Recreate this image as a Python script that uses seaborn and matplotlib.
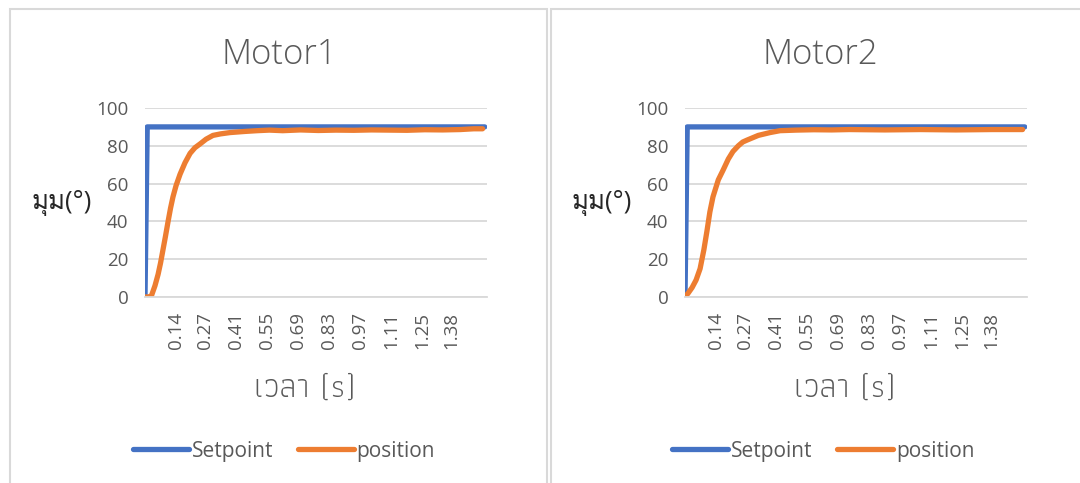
import matplotlib
matplotlib.use("Agg")
import matplotlib.pyplot as plt
from matplotlib import font_manager
from matplotlib.font_manager import FontProperties
from matplotlib.ft2font import FT2Font
from matplotlib.patches import Rectangle
from matplotlib.lines import Line2D
import pandas as pd
import seaborn as sns

# ---- data -------------------------------------------------------------
panel_titles = ["Motor1", "Motor2"]
series_names = ["Setpoint", "position"]

setpoint_time = [0.0, 0.01, 1.53]
setpoint_value = [0, 90, 90]

motor1_time = [0.0, 0.023, 0.03, 0.036, 0.045, 0.059, 0.07, 0.081, 0.092,
               0.104, 0.115, 0.126, 0.14, 0.158, 0.18, 0.203, 0.225, 0.248,
               0.275, 0.306, 0.34, 0.383, 0.45, 0.505, 0.56, 0.62, 0.70,
               0.78, 0.86, 0.94, 1.02, 1.10, 1.18, 1.26, 1.34, 1.42, 1.48,
               1.52]
motor1_position = [0, 0, 1, 3, 6, 12, 18, 25, 32,
                   40, 47, 53, 59, 65, 71, 76, 79, 81,
                   83.5, 85.5, 86.3, 87, 87.6, 88, 88.3, 88.0, 88.4,
                   88.1, 88.3, 88.2, 88.4, 88.3, 88.2, 88.5, 88.4, 88.6, 89,
                   89]

motor2_time = [0.0, 0.014, 0.032, 0.05, 0.068, 0.085, 0.099, 0.112, 0.126,
               0.15, 0.171, 0.195, 0.216, 0.24, 0.26, 0.279, 0.33, 0.383,
               0.428, 0.50, 0.58, 0.66, 0.74, 0.82, 0.90, 0.98, 1.06, 1.14,
               1.22, 1.30, 1.38, 1.46, 1.52]
motor2_position = [0, 2, 5, 9, 15, 25, 35, 45, 53,
                   62, 67, 73, 77, 80, 82, 83, 85.5, 87,
                   88, 88.3, 88.5, 88.4, 88.6, 88.5, 88.4, 88.5, 88.6, 88.5,
                   88.4, 88.5, 88.6, 88.6, 88.6]

x_ticks = [0.14, 0.27, 0.41, 0.55, 0.69, 0.83, 0.97, 1.11, 1.25, 1.38]
x_tick_labels = ["0.14", "0.27", "0.41", "0.55", "0.69", "0.83", "0.97",
                 "1.11", "1.25", "1.38"]
y_ticks = [0, 20, 40, 60, 80, 100]

x_label = "เวลา (s)"
y_label = "มุม(°)"

# ---- fonts ------------------------------------------------------------
def weight_num(w):
    if isinstance(w, (int, float)):
        return w
    return font_manager.weight_dict.get(w, 400)

def thai_fonts():
    """Installed upright font files that carry the Thai and Latin glyphs used here."""
    need = [ord(c) for c in "มุเวลา(s)"]
    found = []
    for entry in font_manager.fontManager.ttflist:
        try:
            cmap = FT2Font(entry.fname).get_charmap()
        except Exception:
            continue
        if all(c in cmap for c in need) and entry.style == "normal":
            found.append(entry)
    return found

sns.set_style("white")
candidates = thai_fonts()
if candidates:
    regular = min(candidates, key=lambda e: abs(weight_num(e.weight) - 400))
    light = min(candidates, key=lambda e: (abs(weight_num(e.weight) - 300),
                                           -weight_num(e.weight)))
    xlabel_font = FontProperties(fname=light.fname)
    plt.rcParams["font.family"] = ["Open Sans", regular.name, "DejaVu Sans"]
else:
    xlabel_font = FontProperties()
    plt.rcParams["font.family"] = ["Open Sans", "DejaVu Sans"]

TEXT = "#595959"
GRID = "#D9D9D9"
BLUE = "#4472C4"
ORANGE = "#ED7D31"
LW = 3.8

W, H = 1080, 483
fig = plt.figure(figsize=(W / 100, H / 100), dpi=100)

def fx(px):
    return px / W

def fy(py):
    return 1 - py / H

# panel frames
for left, right in [(10, 547), (551, 1089)]:
    fig.patches.append(Rectangle((fx(left), fy(500)), fx(right - left), (500 - 9) / H,
                                 transform=fig.transFigure, fill=False,
                                 edgecolor=GRID, linewidth=1.5))

panels = [
    dict(ax_left=145, title_x=279, xlabel_x=305, legend_x=284,
         time=motor1_time, pos=motor1_position),
    dict(ax_left=685, title_x=820, xlabel_x=845, legend_x=823,
         time=motor2_time, pos=motor2_position),
]

for title, p in zip(panel_titles, panels):
    ax = fig.add_axes([fx(p["ax_left"]), fy(297), fx(342), 189 / H])
    df = pd.concat([
        pd.DataFrame({"t": setpoint_time, "v": setpoint_value, "s": series_names[0]}),
        pd.DataFrame({"t": p["time"], "v": p["pos"], "s": series_names[1]}),
    ])
    sns.lineplot(data=df, x="t", y="v", hue="s", hue_order=series_names,
                 palette=[BLUE, ORANGE], linewidth=LW, ax=ax, legend=False,
                 sort=False, estimator=None)
    for ln in ax.lines:
        ln.set_solid_capstyle("round")
        ln.set_solid_joinstyle("round")
    ax.set_xlim(0, 1.54)
    ax.set_ylim(0, 100)
    ax.set_yticks(y_ticks)
    ax.set_xticks(x_ticks)
    ax.set_xticklabels(x_tick_labels, rotation=90)
    ax.tick_params(axis="both", length=0, labelsize=13.5, colors=TEXT)
    ax.tick_params(axis="y", pad=12)
    ax.tick_params(axis="x", pad=11)
    ax.grid(axis="y", color=GRID, linewidth=1.3)
    ax.set_axisbelow(True)
    for side in ["top", "right", "left"]:
        ax.spines[side].set_visible(False)
    ax.spines["bottom"].set_color(GRID)
    ax.spines["bottom"].set_linewidth(1.3)
    ax.set_xlabel("")
    ax.set_ylabel("")
    ax.text(-0.155, 0.5, y_label, transform=ax.transAxes, ha="right",
            va="center", fontsize=18.5, color="#262626")

    fig.text(fx(p["title_x"]), fy(55), title, ha="center", va="center",
             fontsize=25, color=TEXT, fontweight="light")
    xl = xlabel_font.copy()
    xl.set_size(24)
    fig.text(fx(p["xlabel_x"]), fy(388), x_label, ha="center", va="center",
             fontproperties=xl, color=TEXT)

    handles = [Line2D([], [], color=BLUE, linewidth=LW, solid_capstyle="round"),
               Line2D([], [], color=ORANGE, linewidth=LW, solid_capstyle="round")]
    fig.legend(handles, series_names, loc="center",
               bbox_to_anchor=(fx(p["legend_x"]), fy(451)), ncol=2,
               frameon=False, fontsize=15, labelcolor=TEXT,
               handlelength=2.7, handletextpad=0.12, columnspacing=1.2)

fig.savefig("out.png", dpi=100)
